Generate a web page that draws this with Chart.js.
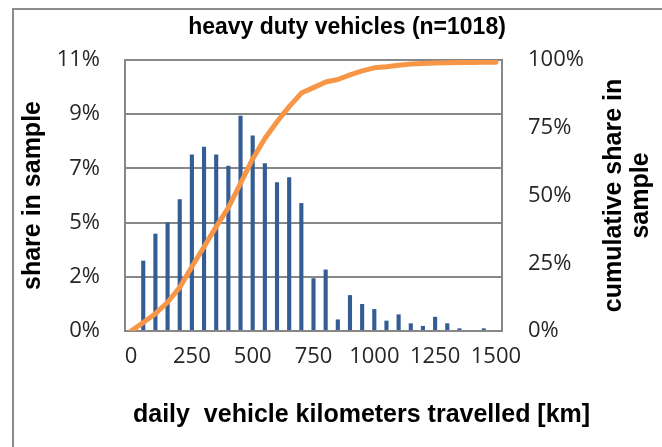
<!DOCTYPE html>
<html>
<head>
<meta charset="utf-8">
<script src="https://cdn.jsdelivr.net/npm/chart.js@4"></script>
<style>
  body { margin: 0; background: #fff; }
  #wrap { position: relative; width: 662px; height: 447px; overflow: hidden; }
  #frame { position: absolute; left: 12px; top: 8px; width: 700px; height: 500px; border: 2px solid #8c8c8c; }
  canvas { position: absolute; left: 0; top: 0; }
</style>
</head>
<body>
<div id="wrap">
  <div id="frame"></div>
  <canvas id="chart" width="662" height="447"></canvas>
</div>
<script>
// daily km classes (50 km steps)
const km = ['0', '50', '100', '150', '200', '250', '300', '350', '400', '450', '500',
  '550', '600', '650', '700', '750', '800', '850', '900', '950', '1000',
  '1050', '1100', '1150', '1200', '1250', '1300', '1350', '1400', '1450', '1500'];

// share in sample per class (%)
const share = [0, 2.92, 4.04, 4.51, 5.47, 7.33, 7.65, 7.33, 6.86, 8.94, 8.12,
  6.96, 6.17, 6.38, 5.31, 2.19, 2.55, 0.48, 1.49, 1.12, 0.91,
  0.43, 0.69, 0.32, 0.21, 0.59, 0.32, 0.11, 0, 0.11, 0];

// cumulative share (%)
const cumulative = [0, 3.1, 6.4, 10.6, 16.1, 23.7, 31.1, 38.5, 45.5, 54.5, 63.5,
  71, 77.2, 82.8, 87.8, 89.8, 91.9, 92.8, 94.5, 96, 97.1,
  97.5, 98.1, 98.5, 98.7, 98.9, 99, 99.1, 99.1, 99.2, 99.2];

const labelEvery = 5;
const leftMax = 11.25, leftStep = 2.25;
const rightMax = 100, rightStep = 25;

const chartTitle = 'heavy duty vehicles (n=1018)';
const xTitle = 'daily  vehicle kilometers travelled [km]';
const leftTitle = 'share in sample';
const rightTitle = ['cumulative share in', 'sample'];

const gridGrey = '#878787';
const tickFont = { family: '"Open Sans", Lato, sans-serif', size: 22 };
const boldFamily = '"Liberation Sans", Arial, sans-serif';

// titles that chart.js can't place the way excel did
const extraText = {
  id: 'extraText',
  afterDraw(chart) {
    const ctx = chart.ctx;
    ctx.save();
    ctx.fillStyle = '#000';
    ctx.textBaseline = 'alphabetic';
    ctx.font = 'bold 23px ' + boldFamily;
    ctx.textAlign = 'center';
    ctx.fillText(chartTitle, 347, 34);

    ctx.font = 'bold 25px ' + boldFamily;
    ctx.textAlign = 'left';
    ctx.fillText(xTitle, 133, 422);

    const cy = (chart.chartArea.top + chart.chartArea.bottom) / 2;
    ctx.textAlign = 'center';
    rightTitle.forEach((line, i) => {
      ctx.save();
      ctx.translate(621 + i * 27, cy);
      ctx.rotate(-Math.PI / 2);
      ctx.fillText(line, 0, 0);
      ctx.restore();
    });
    ctx.restore();
  }
};

new Chart(document.getElementById('chart'), {
  type: 'bar',
  data: {
    labels: km,
    datasets: [{
      type: 'line',
      data: cumulative,
      yAxisID: 'y2',
      borderColor: '#f79646',
      borderWidth: 5,
      pointRadius: 0,
      tension: 0,
      borderJoinStyle: 'round',
      borderCapStyle: 'round',
      order: 0
    }, {
      data: share,
      yAxisID: 'y',
      backgroundColor: '#335d94',
      categoryPercentage: 1,
      barPercentage: 0.34,
      order: 1
    }]
  },
  options: {
    responsive: false,
    animation: false,
    devicePixelRatio: 1,
    layout: { padding: { top: 60, left: 0, right: 0, bottom: 0 } },
    plugins: {
      legend: { display: false },
      tooltip: { enabled: false }
    },
    scales: {
      x: {
        grid: { display: false },
        border: { display: true, color: gridGrey, width: 2 },
        ticks: {
          autoSkip: false,
          maxRotation: 0,
          padding: 5,
          color: '#262626',
          font: tickFont,
          callback: (v, i) => (i % labelEvery === 0 ? km[i] : '')
        },
        afterFit: s => { s.height = 116; }
      },
      y: {
        position: 'left',
        min: 0,
        max: leftMax,
        ticks: {
          stepSize: leftStep,
          padding: 25,
          color: '#262626',
          font: tickFont,
          callback: v => Math.round(v) + '%'
        },
        grid: { color: gridGrey, lineWidth: 2, drawTicks: false },
        border: { display: true, color: gridGrey, width: 2 },
        title: {
          display: true,
          text: leftTitle,
          color: '#000',
          font: { family: boldFamily, size: 25, weight: 'bold' },
          padding: { top: 18, bottom: 0 }
        },
        afterFit: s => { s.width = 125; }
      },
      y2: {
        position: 'right',
        min: 0,
        max: rightMax,
        ticks: {
          stepSize: rightStep,
          padding: 26,
          color: '#262626',
          font: tickFont,
          callback: v => v + '%'
        },
        grid: { display: false, drawTicks: false },
        border: { display: true, color: gridGrey, width: 2 },
        afterFit: s => { s.width = 160; }
      }
    }
  },
  plugins: [extraText]
});
</script>
</body>
</html>
